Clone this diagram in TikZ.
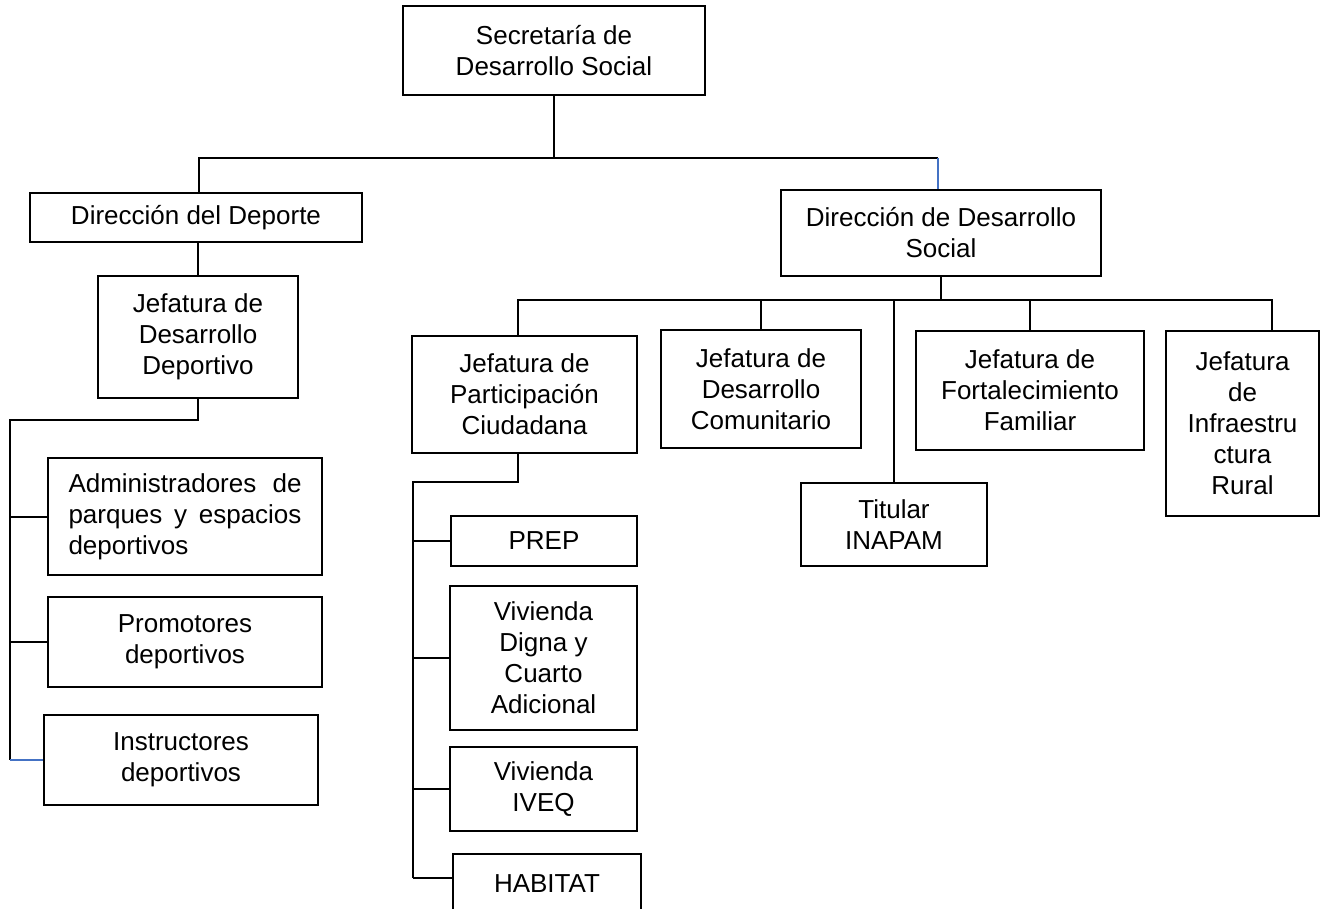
\documentclass[tikz,border=0pt]{standalone}
\usepackage{fontspec}
\setmainfont{Liberation Sans}
\usepackage{tikz}
\definecolor{lineblue}{RGB}{68,114,196}

\begin{document}
\begin{tikzpicture}[
     x=1pt,y=-1pt,
     unit/.style={draw,line width=1.2pt,align=center,inner sep=0pt,
       font=\fontsize{26}{31}\selectfont},
     conn/.style={line width=1.6pt}
   ]
   \path[use as bounding box] (0,0) rectangle (1321,909);
   % Units.
   \node[unit,minimum width=302pt,minimum height=89pt] (sec) at (554,50.5) {Secretaría de\\Desarrollo Social};
   \node[unit,minimum width=332pt,minimum height=49pt] (dep) at (196,217.5) {Dirección del Deporte};
   \node[unit,minimum width=320pt,minimum height=86pt] (dds) at (941,233) {Dirección de Desarrollo\\Social};
   \node[unit,minimum width=200pt,minimum height=122pt] (jdd) at (198,337) {Jefatura de\\Desarrollo\\Deportivo};
   \node[unit,minimum width=274pt,minimum height=117pt,text width=233pt,align=left] (adm) at (185,516.5) {Administradores\hfill de\\parques\hfill y\hfill espacios\\deportivos};
   \node[unit,minimum width=274pt,minimum height=90pt] (pro) at (185,642) {Promotores\\deportivos};
   \node[unit,minimum width=274pt,minimum height=90pt] (ins) at (181,760) {Instructores\\deportivos};
   \node[unit,minimum width=225pt,minimum height=117pt] (jpc) at (524.5,394.5) {Jefatura de\\Participación\\Ciudadana};
   \node[unit,minimum width=200pt,minimum height=118pt] (jdc) at (761,389) {Jefatura de\\Desarrollo\\Comunitario};
   \node[unit,minimum width=228pt,minimum height=119pt] (jff) at (1030,390.5) {Jefatura de\\Fortalecimiento\\Familiar};
   \node[unit,minimum width=153pt,minimum height=185pt] (jir) at (1242.5,423.5) {Jefatura\\de\\Infraestru\\ctura\\Rural};
   \node[unit,minimum width=186pt,minimum height=83pt] (inp) at (894,524.5) {Titular\\INAPAM};
   \node[unit,minimum width=186pt,minimum height=50pt] (prep) at (544,541) {PREP};
   \node[unit,minimum width=187pt,minimum height=144pt] (vdc) at (543.5,658) {Vivienda\\Digna y\\Cuarto\\Adicional};
   \node[unit,minimum width=187pt,minimum height=84pt] (ivq) at (543.5,789) {Vivienda\\IVEQ};
   \node[unit,minimum width=188pt,minimum height=60pt] (hab) at (547,884) {HABITAT};
   % Top level.
   \coordinate (bus1L) at (199,158);
   \coordinate (bus1R) at (938,158);
   \draw[conn] (sec.south) -- (sec.south |- bus1L);
   \draw[conn] (bus1L |- dep.north) -- (bus1L) -- (bus1R);
   \draw[conn,lineblue] (bus1R) -- (bus1R |- dds.north);
   % Sport branch.
   \coordinate (spine1) at (10,420);
   \draw[conn] (jdd.north |- dep.south) -- (jdd.north);
   \draw[conn] (jdd.south) |- (spine1) -- (spine1 |- ins.west);
   \draw[conn] (spine1 |- 0,517) -- (adm.west |- 0,517);
   \draw[conn] (spine1 |- pro.west) -- (pro.west);
   \draw[conn,lineblue] (spine1 |- ins.west) -- (ins.west);
   % Social development branch.
   \coordinate (bus2L) at (518,300);
   \coordinate (bus2R) at (1272,300);
   \draw[conn] (dds.south) -- (dds.south |- bus2L);
   \draw[conn] (bus2L |- jpc.north) -- (bus2L) -- (bus2R) -- (bus2R |- jir.north);
   \draw[conn] (jdc.north) -- (jdc.north |- bus2L);
   \draw[conn] (inp.north) -- (inp.north |- bus2L);
   \draw[conn] (jff.north) -- (jff.north |- bus2L);
   % Citizen participation.
   \coordinate (spine2) at (413,482);
   \draw[conn] (bus2L |- jpc.south) |- (spine2) -- (spine2 |- 0,878);
   \draw[conn] (spine2 |- prep.west) -- (prep.west);
   \draw[conn] (spine2 |- vdc.west) -- (vdc.west);
   \draw[conn] (spine2 |- ivq.west) -- (ivq.west);
   \draw[conn] (spine2 |- 0,878) -- (hab.west |- 0,878);
 \end{tikzpicture}
\end{document}
